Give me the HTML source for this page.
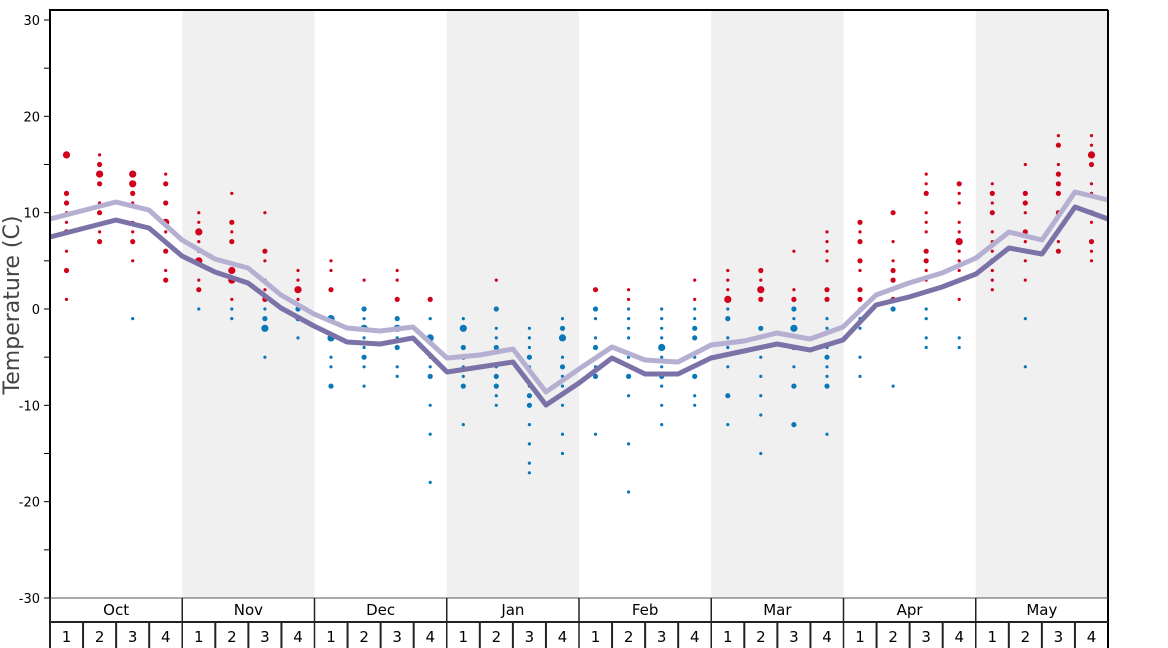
<!DOCTYPE html>
<html><head><meta charset="utf-8"><style>
body{margin:0;background:#fff;}
svg{display:block;font-family:"DejaVu Sans","Liberation Sans",sans-serif;}
</style></head><body>
<svg id="s" width="1168" height="648" xmlns="http://www.w3.org/2000/svg"></svg>
<script>
const s=document.getElementById('s');
let h='';
const X0=50,X1=1108,W=(X1-X0)/32;
const Y=t=>309-t*9.633;
[1,3,5,7].forEach(m=>{h+=`<rect x="${X0+m*4*W}" y="10" width="${4*W}" height="588" fill="#f0f0f0"/>`;});
const D=[
"16L 12M 11M 10 9 8M 6 4M 1",
"16 15M 14L 13M 11 10M 8 7M",
"14L 13L 12M 11 9 8 7M 5 -1",
"14 13M 11M 9L 8 7 6M 4 3M",
"10 9 8L 7 6 5L 3 2M 0",
"12 9M 8 7M 4L 3L 1 0 -1",
"10 6M 5 3 2 1M 0 -1M -2L -5",
"4 3 2L 1 0M -1M -3",
"5 4 2M -1L -3L -5 -6 -8M",
"3 0M -1 -2L -3 -4 -5M -6 -8",
"4 3 1M -1M -2L -3 -4M -6 -7",
"1M -1 -3L -5 -6 -7M -10 -13 -18",
"-1 -2L -4M -5M -6 -7 -8M -12",
"3 0M -2 -3 -4M -6 -7M -8M -9 -10",
"-2 -3 -4 -5M -6 -8 -9M -10M -12 -14 -16 -17",
"-1 -2M -3L -5 -6M -7 -8 -10 -13 -15",
"2M 0M -1 -3 -4M -5 -6 -7M -13",
"2 1 0 -1 -2 -3 -5 -7M -9 -14 -19",
"0 -1 -2 -3 -4L -5 -6 -7M -8 -10 -12",
"3 1 0 -1 -2M -3M -5 -6 -7M -9 -10",
"4 3 2 1L 0 -1M -3 -4 -6 -9M -12",
"4M 3 2L 1M -2M -4 -5 -7 -9 -11 -15",
"6 2 1M 0M -1 -2L -4M -6 -8M -12M",
"8 7 6 5 2M 1M -1 -2 -4 -5M -6 -7 -8M -13",
"9M 8 7M 5M 4 2M 1M 0 -1 -2 -5 -7",
"10M 7 5 4M 3M 2 1M 0M -8",
"14 13 12M 10 9 8 6M 5M 4 3 0 -1 -3 -4",
"13M 12 11 9 8 7L 6 5 4 3 1 -3 -4",
"13 12M 11 10M 8 7 6 5M 4 3 2",
"15 12M 11M 10 8M 7 6 5 3 -1 -6",
"18 17M 15 14M 13M 12M 10M 7 6M",
"18 17 16L 15M 13 12 10M 9 7M 6 5"];
D.forEach((c,i)=>{const x=X0+W*(i+.5);c.split(' ').forEach(v=>{let sz=v.slice(-1),r=1.6;if(sz=='L'){r=3.6;v=v.slice(0,-1);}else if(sz=='M'){r=2.6;v=v.slice(0,-1);}
const t=+v;h+=`<circle cx="${x.toFixed(1)}" cy="${Y(t).toFixed(1)}" r="${r}" fill="${t>0?'#d0021b':'#0a77b8'}"/>`;});});
const L="50,219 116,202 149,210 182,240 215,259 248,268 281,295 314,314 347,328 380,331 413,327 447,358 480,355 513,349 546,392 579,369 612,347 645,360 678,362 711,345 744,341 777,333 810,339 843,327 876,295 909,283 942,273 976,258 1009,232 1042,240 1075,192 1108,200";
const Dk="50,237 116,220 149,228 182,256 215,272 248,283 281,308 314,326 347,342 380,344 413,338 447,372 480,367 513,362 546,405 579,383 612,358 645,374 678,374 711,358 744,351 777,344 810,350 843,340 876,305 909,297 942,287 976,274 1009,248 1042,254 1075,207 1108,219";
h+=`<polyline points="${L}" fill="none" stroke="#b5b0d1" stroke-width="5" stroke-linejoin="round"/>`;
h+=`<polyline points="${Dk}" fill="none" stroke="#7b72a8" stroke-width="5" stroke-linejoin="round"/>`;
h+=`<line x1="50" y1="10" x2="1108" y2="10" stroke="#000" stroke-width="2"/>`;
h+=`<line x1="1108" y1="10" x2="1108" y2="648" stroke="#000" stroke-width="2"/>`;
h+=`<line x1="50" y1="9" x2="50" y2="648" stroke="#000" stroke-width="2"/>`;
for(let t=-30;t<=30;t+=5){const y=Y(t);h+=`<line x1="44" y1="${y}" x2="50" y2="${y}" stroke="#000"/>`;
if(t%10==0)h+=`<text x="40" y="${y+5}" font-size="13" text-anchor="end" fill="#000">${t}</text>`;}
h+=`<text transform="translate(19,305) rotate(-90)" font-size="22" text-anchor="middle" fill="#444">Temperature (C)</text>`;
h+=`<line x1="50" y1="598" x2="1108" y2="598" stroke="#555" stroke-width="1"/>`;
h+=`<line x1="50" y1="622" x2="1108" y2="622" stroke="#222" stroke-width="2"/>`;
const M=['Oct','Nov','Dec','Jan','Feb','Mar','Apr','May'];
M.forEach((m,i)=>{const x=X0+i*4*W;h+=`<line x1="${x}" y1="598" x2="${x}" y2="648" stroke="#222" stroke-width="${i?1.5:2}"/>`;
h+=`<text x="${x+2*W}" y="615" font-size="15" text-anchor="middle">${m}</text>`;
for(let k=0;k<4;k++){const wx=x+k*W;if(k)h+=`<line x1="${wx}" y1="622" x2="${wx}" y2="648" stroke="#222" stroke-width="2"/>`;
h+=`<text x="${wx+W/2}" y="642" font-size="15" text-anchor="middle">${k+1}</text>`;}});
s.innerHTML=h;
</script>
</body></html>
